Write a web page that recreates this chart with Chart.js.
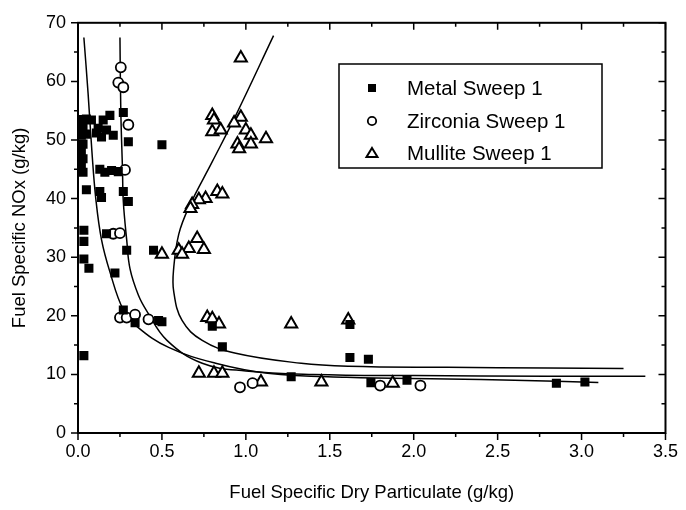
<!DOCTYPE html>
<html>
<head>
<meta charset="utf-8">
<script src="https://cdn.jsdelivr.net/npm/chart.js@4.4.1/dist/chart.umd.min.js"></script>
<style>
  html, body { margin: 0; padding: 0; background: #fff; }
</style>
</head>
<body>
<canvas id="grafico" width="686" height="510"></canvas>
<script>
// --- Datos ---
const metalX = [0.02, 0.05, 0.08, 0.03, 0.02, 0.05, 0.03, 0.02, 0.03, 0.02, 0.03, 0.05,
                0.12, 0.15, 0.19, 0.17, 0.21, 0.14, 0.11, 0.13, 0.16, 0.20, 0.24,
                0.27, 0.30, 0.50, 0.13, 0.14, 0.27, 0.30,
                0.035, 0.035, 0.17, 0.29, 0.035, 0.065, 0.22, 0.45,
                0.27, 0.34, 0.48, 0.50, 0.035, 0.86, 0.80, 1.27,
                1.62, 1.62, 1.73, 1.745, 1.96, 2.85, 3.02];
const metalY = [53.5, 53.6, 53.4, 52.2, 50.8, 51.0, 49.3, 48.0, 46.8, 45.5, 44.5, 41.5,
                52.0, 53.4, 54.2, 51.7, 50.8, 50.5, 51.2, 45.0, 44.5, 44.8, 44.6,
                54.7, 49.7, 49.2, 41.2, 40.2, 41.2, 39.5,
                34.6, 32.7, 34.0, 31.2, 29.7, 28.1, 27.3, 31.2,
                21.0, 18.8, 19.2, 19.0, 13.2, 14.7, 18.2, 9.6,
                18.5, 12.9, 12.6, 8.6, 9.0, 8.5, 8.7];

const zircX = [0.255, 0.24, 0.27, 0.30, 0.28, 0.21, 0.25, 0.25, 0.29, 0.34, 0.42, 0.965, 1.04, 1.80, 2.04];
const zircY = [62.4, 59.8, 59.0, 52.6, 44.9, 34.0, 34.1, 19.7, 19.7, 20.2, 19.4, 7.8, 8.5, 8.1, 8.1];

const mulliteX = [0.97, 0.80, 0.81, 0.97, 0.93, 0.80, 0.85, 1.00, 1.03, 1.12, 0.95, 0.96, 1.03,
                  0.83, 0.86, 0.76, 0.72, 0.68, 0.67, 0.71, 0.66, 0.75, 0.60, 0.62, 0.50,
                  0.77, 0.80, 0.84, 1.27, 1.61, 0.72, 0.81, 0.86, 1.09, 1.45, 1.875];
const mulliteY = [64.0, 54.2, 53.4, 53.9, 52.9, 51.4, 51.7, 51.7, 50.8, 50.2, 49.3, 48.5, 49.3,
                  41.2, 40.8, 40.0, 39.8, 39.0, 38.3, 33.2, 31.5, 31.3, 31.2, 30.5, 30.5,
                  19.7, 19.5, 18.6, 18.6, 19.3, 10.2, 10.2, 10.2, 8.7, 8.7, 8.5];

// Curvas de ajuste (puntos leidos sobre las lineas)
const curva1X = [0.035, 0.06, 0.083, 0.106, 0.14, 0.19, 0.27, 0.35, 0.54, 0.82, 1.13, 1.6, 2.2, 2.6, 3.1];
const curva1Y = [67.5, 58.0, 48.0, 40.0, 33.0, 27.5, 21.0, 18.2, 14.6, 11.9, 10.2, 9.5, 9.2, 9.0, 8.6];
const curva2X = [0.25, 0.255, 0.265, 0.27, 0.29, 0.31, 0.36, 0.41, 0.53, 0.74, 1.0, 1.4, 2.0, 2.8, 3.38];
const curva2Y = [67.5, 55.0, 45.0, 39.5, 33.0, 28.0, 23.5, 20.8, 15.8, 11.9, 10.6, 10.0, 9.8, 9.7, 9.7];
const curva3X = [1.165, 0.94, 0.80, 0.66, 0.60, 0.57, 0.57, 0.62, 0.74, 0.94, 1.33, 1.61, 2.2, 2.8, 3.25];
const curva3Y = [67.8, 54.2, 46.3, 38.5, 33.9, 28.1, 24.2, 19.2, 15.8, 13.6, 11.9, 11.4, 11.2, 11.1, 11.0];

const etiquetas = ['Metal Sweep 1', 'Zirconia Sweep 1', 'Mullite Sweep 1'];

function unir(xs, ys) {
    return xs.map((x, i) => ({ x: x, y: ys[i] }));
}

const fuente = '"Liberation Sans", Arial, sans-serif';

// --- Marco y marcas de ejes (mayores y menores) ---
const marcoPlugin = {
    id: 'marco',
    afterDraw(chart) {
        const { ctx, chartArea: a, scales: { x, y } } = chart;
        ctx.save();
        ctx.strokeStyle = '#000';
        ctx.lineWidth = 2;
        ctx.strokeRect(a.left, a.top, a.right - a.left, a.bottom - a.top);
        ctx.lineWidth = 1.5;
        ctx.beginPath();
        for (let v = x.min; v <= x.max + 1e-9; v += 0.25) {
            const px = x.getPixelForValue(v);
            const mayor = Math.abs(v * 2 - Math.round(v * 2)) < 1e-6;
            const l = mayor ? 7 : 4;
            ctx.moveTo(px, a.bottom); ctx.lineTo(px, a.bottom + l);
            ctx.moveTo(px, a.top); ctx.lineTo(px, a.top + l);
        }
        for (let v = y.min; v <= y.max + 1e-9; v += 5) {
            const py = y.getPixelForValue(v);
            const l = (v % 10 === 0) ? 7 : 4;
            ctx.moveTo(a.left, py); ctx.lineTo(a.left - l, py);
            ctx.moveTo(a.right, py); ctx.lineTo(a.right - l, py);
        }
        ctx.stroke();
        ctx.restore();
    }
};

// --- Leyenda dentro del area ---
const leyendaPlugin = {
    id: 'leyenda',
    afterDraw(chart) {
        const ctx = chart.ctx;
        ctx.save();
        ctx.strokeStyle = '#000';
        ctx.lineWidth = 1.5;
        ctx.strokeRect(339, 64, 263, 104);
        ctx.fillStyle = '#000';
        ctx.font = '20.5px ' + fuente;
        ctx.textBaseline = 'middle';
        const filas = [88, 121, 153];
        etiquetas.forEach((t, i) => {
            const yy = filas[i];
            ctx.beginPath();
            if (i === 0) {
                ctx.fillRect(368, yy - 4, 8, 8);
            } else if (i === 1) {
                ctx.lineWidth = 1.8;
                ctx.arc(372, yy, 4.2, 0, Math.PI * 2);
                ctx.stroke();
            } else {
                ctx.lineWidth = 2;
                ctx.moveTo(372, yy - 5);
                ctx.lineTo(377.5, yy + 4);
                ctx.lineTo(366.5, yy + 4);
                ctx.closePath();
                ctx.stroke();
            }
            ctx.fillText(t, 407, yy + 1);
        });
        ctx.restore();
    }
};

const curva = (xs, ys) => ({
    data: unir(xs, ys), showLine: true, pointRadius: 0, borderColor: '#000',
    borderWidth: 1.5, tension: 0.4, fill: false
});

new Chart(document.getElementById('grafico'), {
    type: 'scatter',
    data: {
        datasets: [
            { label: etiquetas[0], data: unir(metalX, metalY), pointStyle: 'rect', pointRadius: 6.4,
              backgroundColor: '#000', borderColor: '#000', borderWidth: 0 },
            { label: etiquetas[1], data: unir(zircX, zircY), pointStyle: 'circle', pointRadius: 5,
              backgroundColor: '#fff', borderColor: '#000', borderWidth: 1.8 },
            { label: etiquetas[2], data: unir(mulliteX, mulliteY), pointStyle: 'triangle', pointRadius: 7,
              backgroundColor: '#fff', borderColor: '#000', borderWidth: 2 },
            curva(curva1X, curva1Y),
            curva(curva2X, curva2Y),
            curva(curva3X, curva3Y)
        ]
    },
    options: {
        responsive: false,
        animation: false,
        layout: { padding: { top: 20, right: 16, left: 0, bottom: 0 } },
        plugins: { legend: { display: false }, tooltip: { enabled: false } },
        scales: {
            x: {
                type: 'linear', min: 0, max: 3.5,
                grid: { display: true, drawOnChartArea: false, drawTicks: false },
                border: { display: false },
                ticks: { stepSize: 0.5, padding: 8, color: '#000', font: { family: fuente, size: 18 },
                         callback: v => v.toFixed(1) },
                title: { display: true, text: 'Fuel Specific Dry Particulate (g/kg)', color: '#000',
                         font: { family: fuente, size: 18.5 }, padding: { top: 0, bottom: 6 } },
                afterFit: s => { s.height = 77; }
            },
            y: {
                type: 'linear', min: 0, max: 70,
                grid: { display: true, drawOnChartArea: false, drawTicks: false },
                border: { display: false },
                ticks: { stepSize: 10, padding: 12, color: '#000', font: { family: fuente, size: 18 } },
                title: { display: true, text: 'Fuel Specific NOx (g/kg)', color: '#000',
                         font: { family: fuente, size: 18.5 }, padding: { top: 9, bottom: 0 } },
                afterFit: s => { s.width = 78; }
            }
        }
    },
    plugins: [marcoPlugin, leyendaPlugin]
});
</script>
</body>
</html>
